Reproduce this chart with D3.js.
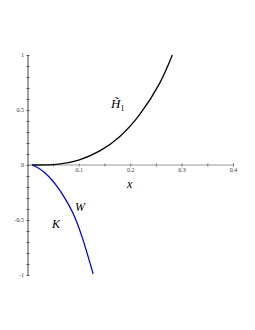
<!DOCTYPE html>
<html><head><meta charset="utf-8">
<script src="https://cdn.jsdelivr.net/npm/d3@7/dist/d3.min.js"></script>
<style>html,body{margin:0;padding:0;background:#fff;}svg{display:block;}</style>
</head><body>
<svg id="c" width="255" height="330"></svg>
<script>
// Data
const h1X = [0.009, 0.04, 0.064, 0.1, 0.141, 0.179, 0.218, 0.257, 0.282];
const h1Y = [0, 0.001, 0.01, 0.045, 0.128, 0.255, 0.455, 0.74, 1.0];
const kX = [0.0086, 0.0214, 0.0344, 0.0474, 0.0603, 0.070, 0.0895, 0.109, 0.128];
const kY = [0, -0.027, -0.073, -0.134, -0.21, -0.28, -0.445, -0.69, -0.99];
const xTicks = [0.1, 0.2, 0.3, 0.4];
const yTicks = [-1, -0.5, 0, 0.5, 1];

const svg = d3.select("#c");
const x = d3.scaleLinear().domain([0, 0.4]).range([27.3, 233]);
const y = d3.scaleLinear().domain([-1, 1]).range([275, 55]);
const font = "'Liberation Serif','DejaVu Serif',serif";

// x axis
const xAxis = d3.axisBottom(x).tickValues(d3.range(0.05, 0.401, 0.05)).tickSize(2)
  .tickFormat(d => xTicks.some(t => Math.abs(t - d) < 1e-9) ? d3.format(".1f")(d) : "");
const gx = svg.append("g").attr("transform", `translate(0,${y(0)})`).call(xAxis);
gx.select(".domain").attr("stroke", "#999").attr("stroke-width", 1.2).attr("d", `M${x(0)},0H${x(0.4)}`);
gx.selectAll(".tick line").attr("stroke", "#777").attr("y1", -1.5).attr("y2", 1.5);
gx.selectAll(".tick text").attr("font-family", font).attr("font-size", 6).attr("fill", "#333").attr("dy", "0.35em");

// y axis
const yAxis = d3.axisLeft(y).tickValues(d3.range(-10, 11).map(d => d / 10)).tickSize(2)
  .tickFormat(d => yTicks.some(t => Math.abs(t - d) < 1e-9) ? String(d) : "");
const gy = svg.append("g").attr("transform", `translate(28,0)`).call(yAxis);
gy.select(".domain").attr("stroke", "#444").attr("stroke-width", 1).attr("d", `M0,${y(-1)}V${y(1)}`);
gy.selectAll(".tick line").attr("stroke", "#555").attr("x1", -1.5).attr("x2", 1.5);
gy.selectAll(".tick text").attr("font-family", font).attr("font-size", 6).attr("fill", "#333").attr("x", -4);

const line = d3.line().x(d => x(d[0])).y(d => y(d[1])).curve(d3.curveNatural);
svg.append("path").datum(h1X.map((v, i) => [v, h1Y[i]])).attr("d", line)
  .attr("fill", "none").attr("stroke", "#000").attr("stroke-width", 1.3);
svg.append("path").datum(kX.map((v, i) => [v, kY[i]])).attr("d", line)
  .attr("fill", "none").attr("stroke", "#0000ff").attr("stroke-width", 1.3);

// labels
const lab = svg.append("text").attr("x", 111).attr("y", 108).attr("font-family", font)
  .attr("font-size", 13).attr("font-style", "italic");
lab.append("tspan").text("H\u0303");
lab.append("tspan").attr("font-size", 8).attr("font-style", "normal").attr("dy", 3).text("1");
svg.append("text").attr("x", 75).attr("y", 211).attr("font-family", font).attr("font-size", 12)
  .attr("font-style", "italic").text("W");
svg.append("text").attr("x", 52).attr("y", 228).attr("font-family", font).attr("font-size", 12)
  .attr("font-style", "italic").text("K");
svg.append("text").attr("x", 127).attr("y", 188).attr("font-family", font).attr("font-size", 12)
  .attr("font-style", "italic").text("x");
</script>
</body></html>
